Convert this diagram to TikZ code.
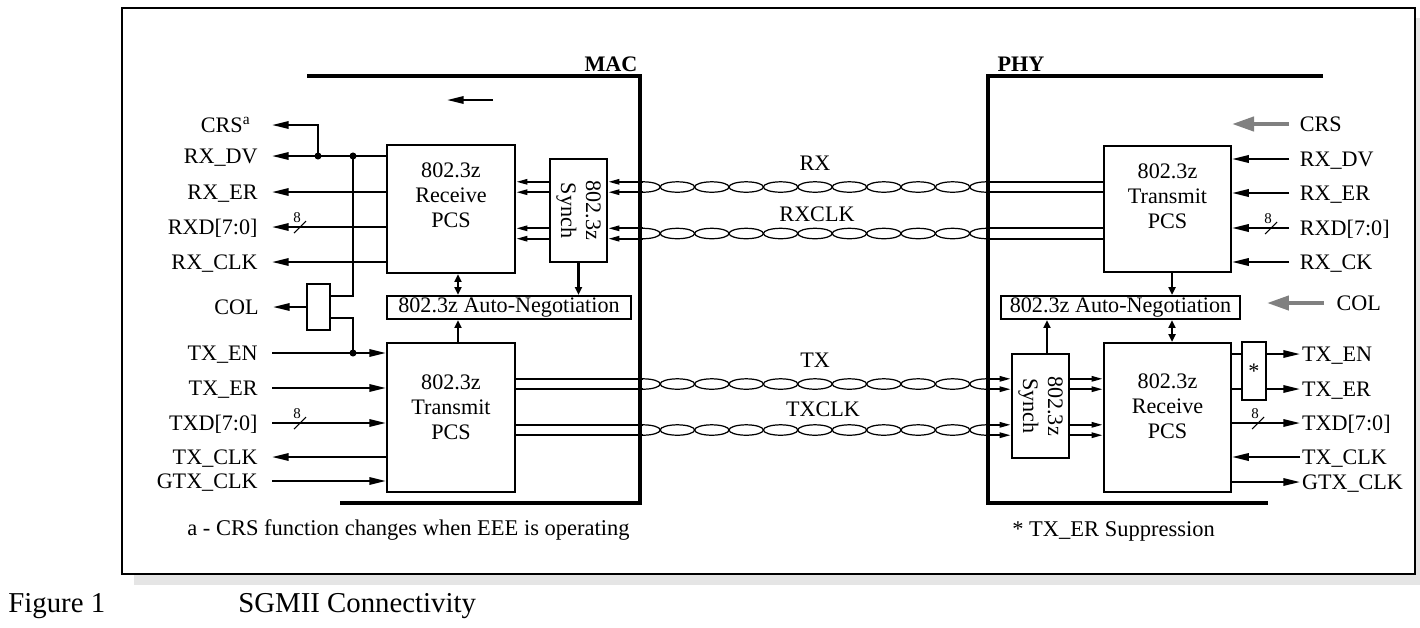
\documentclass[tikz,border=0pt]{standalone}
\usepackage{fontspec}
\setmainfont{Liberation Serif}
\usetikzlibrary{arrows.meta,positioning}
\definecolor{shadegray}{RGB}{229,229,229}
\definecolor{hintgray}{RGB}{128,128,128}
\newcommand*{\mainsize}{\fontsize{12.6}{14.2}\selectfont}
\newcommand*{\pairL}{643}
\newcommand*{\pairR}{987}
\newcommand*{\pairH}{5.2}
\newcommand*{\pairW}{17.2}
\newcommand*{\twisted}[1]{%
        \draw [pair] (\pairL,#1-\pairH) arc [start angle=-90,end angle=90,x radius=\pairW,y radius=\pairH];
        \draw [pair] (\pairR,#1-\pairH) arc [start angle=-90,end angle=-270,x radius=\pairW,y radius=\pairH];
        \foreach \k in {1,...,9} {
            \draw [pair] ({\pairL+2*\pairW*\k},#1) ellipse [x radius=\pairW,y radius=\pairH];
        }
}
\newcommand*{\busmark}[3]{%
        \draw [slash] (#2-6,#3+6) -- (#2+6,#3-6);
        \node [buslbl] (#1) at (#2-3,#3-9) {8};
}
\tikzset{
    lbl/.style={font=\mainsize,text height=1.9ex,text depth=0.1ex},
    lblL/.style={lbl,anchor=east,inner xsep=#1},
    lblR/.style={lbl,anchor=west,inner xsep=#1},
    note/.style={font=\fontsize{12.8}{15}\selectfont,anchor=west,inner xsep=0pt},
    boxtxt/.style={font=\mainsize,align=center},
    blk/.style={draw,line width=1.2pt,font=\mainsize},
    wh/.style 2 args={minimum width=#1*0.02cm,minimum height=#2*0.02cm,inner sep=0pt},
    buslbl/.style={font=\fontsize{8.5}{10}\selectfont,inner sep=0pt},
    sig/.style={line width=1.2pt},
    thinsig/.style={line width=0.6pt},
    slash/.style={line width=0.6pt},
    pair/.style={line width=0.7pt},
    wall/.style={line width=2.4pt},
    hint/.style={draw=hintgray,line width=2.3pt},
    sigtip/.tip={Triangle[length=9.5pt,width=4.2pt]},
    syntip/.tip={Triangle[length=6.5pt,width=3pt]},
    negtip/.tip={Triangle[length=4.5pt,width=4pt]},
    graytip/.tip={Triangle[length=12.5pt,width=8pt]}
}
\begin{document}
\begin{tikzpicture}[x=0.02cm,y=-0.02cm]
        \useasboundingbox (0,0) rectangle (1420,627);
        \fill [shadegray] (134,574) rectangle (1420,585);
        \fill [shadegray] (1415,18) rectangle (1420,585);
        \draw [line width=0.8pt,fill=white] (122,8) rectangle (1415,574);
        \draw [wall] (307,76) -- (640,76) -- (640,503) -- (340,503);
        \draw [wall] (1323,76) -- (988,76) -- (988,503) -- (1268,503);
        \node [font=\mainsize\bfseries] (mac) at (611,64) {MAC};
        \node [font=\mainsize\bfseries] (phy) at (1021,64) {PHY};
        \coordinate (dirA) at (493,100);
        \coordinate (dirB) at (447,100);
        \draw [sig,-{sigtip}] (dirA) -- (dirB);

        \node [blk,wh={128}{128}] (rxM) at (451,209) {};
        \node [boxtxt] (rxMt) at (451,195.5) {802.3z\\Receive\\PCS};
        \node [blk,wh={57}{103}] (synM) at (578.5,210.5) {};
        \node [boxtxt,rotate=-90] (synMt) at (synM) {802.3z\\Synch};
        \node [blk,wh={244}{23}] (anM) at (509,307.5) {802.3z Auto-Negotiation};
        \node [blk,wh={128}{149}] (txM) at (451,417.5) {};
        \node [boxtxt] (txMt) at (451,407.5) {802.3z\\Transmit\\PCS};
        \node [blk,wh={23}{46}] (colM) at (318.5,307) {};

        \node [blk,wh={127}{126}] (txP) at (1167.5,209) {};
        \node [boxtxt] (txPt) at (1167.5,196.5) {802.3z\\Transmit\\PCS};
        \node [blk,wh={239}{23}] (anP) at (1120.5,307.5) {802.3z Auto-Negotiation};
        \node [blk,wh={57}{104}] (synP) at (1040.5,406) {};
        \node [boxtxt,rotate=-90] (synPt) at (synP) {802.3z\\Synch};
        \node [blk,wh={127}{149}] (rxP) at (1167.5,417.5) {};
        \node [boxtxt] (rxPt) at (1167.5,406.5) {802.3z\\Receive\\PCS};
        \node [blk,wh={24}{58}] (starP) at (1254,371) {*};

        \node [lblL=12pt] (lCRS) at (272,125) {CRS\textsuperscript{a}};
        \foreach \nm/\lab/\y in {RXDV/RX\_DV/156,RXER/RX\_ER/192,RXD/RXD[7:0]/227,RXCLK/RX\_CLK/262} {
            \node [lblL=8pt] (l\nm) at (272,\y) {\lab};
            \draw [sig,-{sigtip}] (rxM.west |- l\nm.east) -- (l\nm.east);
        }
        \foreach \nm/\lab/\y in {TXEN/TX\_EN/353,TXER/TX\_ER/388,TXD/TXD[7:0]/423,GTXCLK/GTX\_CLK/481} {
            \node [lblL=8pt] (l\nm) at (272,\y) {\lab};
            \draw [sig,-{sigtip}] (l\nm.east) -- (txM.west |- l\nm.east);
        }
        \node [lblL=8pt] (lTXCLK) at (272,457) {TX\_CLK};
        \draw [sig,-{sigtip}] (txM.west |- lTXCLK.east) -- (lTXCLK.east);
        \node [lblL=8pt] (lCOL) at (273,307) {COL};
        \draw [sig,-{sigtip}] (colM.west) -- (lCOL.east);
        \coordinate (jCRS) at (318,156);
        \coordinate (jDV) at (353,156);
        \coordinate (jEN) at (353,353);
        \coordinate (colA) at (330,296);
        \coordinate (colB) at (330,318);
        \draw [sig,-{sigtip}] (jCRS) |- (lCRS.east);
        \draw [sig] (jDV) |- (colA);
        \draw [sig] (jEN) |- (colB);
        \foreach \j in {jCRS,jDV,jEN} \fill (\j) circle [radius=2pt];
        \busmark{bRXD}{300}{227}
        \busmark{bTXD}{300}{423}

        \foreach \c in {187,233.5} {
            \twisted{\c}
            \foreach \s in {-1,1} {
                \pgfmathsetmacro{\yy}{\c+\s*\pairH}
                \draw [sig,-{syntip}] (\pairL,\yy) -- (synM.east |- 0,\yy);
                \draw [sig,-{syntip}] (synM.west |- 0,\yy) -- (rxM.east |- 0,\yy);
                \draw [sig] (\pairR,\yy) -- (txP.west |- 0,\yy);
            }
        }
        \foreach \c in {384,430} {
            \twisted{\c}
            \foreach \s in {-1,1} {
                \pgfmathsetmacro{\yy}{\c+\s*\pairH}
                \draw [sig] (txM.east |- 0,\yy) -- (\pairL,\yy);
                \draw [sig,-{syntip}] (\pairR,\yy) -- (synP.west |- 0,\yy);
                \draw [sig,-{syntip}] (synP.east |- 0,\yy) -- (rxP.west |- 0,\yy);
            }
        }
        \node [lbl] (tRX) at (815,163) {RX};
        \node [lbl] (tRXCLK) at (817,214) {RXCLK};
        \node [lbl] (tTX) at (815,360) {TX};
        \node [lbl] (tTXCLK) at (823,409) {TXCLK};

        \coordinate (aM) at (458,0);
        \draw [sig,{negtip}-{negtip}] (aM |- rxM.south) -- (aM |- anM.north);
        \draw [sig,-{negtip}] (aM |- txM.north) -- (aM |- anM.south);
        \draw [sig,-{negtip}] (synM.south) -- (synM.south |- anM.north);
        \coordinate (aP) at (1172,0);
        \coordinate (sP) at (1047,0);
        \draw [sig,-{negtip}] (aP |- txP.south) -- (aP |- anP.north);
        \draw [sig,{negtip}-{negtip}] (aP |- rxP.north) -- (aP |- anP.south);
        \draw [sig,-{negtip}] (sP |- synP.north) -- (sP |- anP.south);

        \node [lblR=6pt] (rCRS) at (1289,124) {CRS};
        \draw [hint,-{graytip}] (rCRS.west) -- (txP.east |- rCRS.west);
        \foreach \nm/\lab/\y in {RXDV/RX\_DV/159,RXER/RX\_ER/193,RXD/RXD[7:0]/228,RXCK/RX\_CK/262} {
            \node [lblR=6pt] (r\nm) at (1289,\y) {\lab};
            \draw [sig,-{sigtip}] (r\nm.west) -- (txP.east |- r\nm.west);
        }
        \node [lblR=7pt] (rCOL) at (1324,303) {COL};
        \coordinate (cCOL) at (1267,303);
        \draw [hint,-{graytip}] (rCOL.west) -- (cCOL);
        \foreach \nm/\lab/\y in {TXEN/TX\_EN/354,TXER/TX\_ER/389} {
            \node [lblR=1pt] (r\nm) at (1300,\y) {\lab};
            \draw [thinsig] (rxP.east |- r\nm.west) -- (starP.west |- r\nm.west);
            \draw [sig,-{sigtip}] (starP.east |- r\nm.west) -- (r\nm.west);
        }
        \node [lblR=1pt] (rTXD) at (1300,423) {TXD[7:0]};
        \draw [sig,-{sigtip}] (rxP.east |- rTXD.west) -- (rTXD.west);
        \node [lblR=1pt] (rTXCLK) at (1300,457) {TX\_CLK};
        \draw [sig,-{sigtip}] (rTXCLK.west) -- (rxP.east |- rTXCLK.west);
        \node [lblR=1pt] (rGTXCLK) at (1300,482) {GTX\_CLK};
        \draw [sig,-{sigtip}] (rxP.east |- rGTXCLK.west) -- (rGTXCLK.west);
        \busmark{bRXDp}{1271}{228}
        \busmark{bTXDp}{1258}{423}

        \node [note] (noteA) at (187,530) {a - CRS function changes when EEE is operating};
        \node [note] (noteB) at (1012,531) {* TX\_ER Suppression};
        \node [font=\fontsize{16.4}{19}\selectfont,anchor=west,inner xsep=0pt] (figNo) at (8,606) {Figure 1};
        \node [font=\fontsize{16.4}{19}\selectfont,anchor=west,inner xsep=0pt] (figTitle) at (238,606) {SGMII Connectivity};
\end{tikzpicture}
\end{document}
